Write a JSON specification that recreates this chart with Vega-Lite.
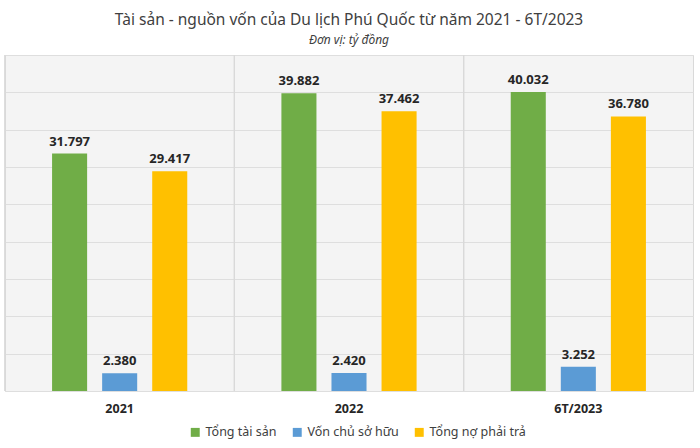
{
  "$schema": "https://vega.github.io/schema/vega-lite/v6.json",
  "autosize": "none",
  "width": 688,
  "height": 336,
  "padding": {"left": 5, "top": 55, "right": 7, "bottom": 57},
  "background": "white",
  "config": {
    "font": "Noto Sans",
    "locale": {"number": {"decimal": ",", "thousands": ".", "grouping": [3], "currency": ["", ""]}},
    "view": {"fill": "#f4f4f4", "stroke": "#d9d9d9"},
    "title": {"font": "Noto Sans", "fontSize": 15.5, "fontWeight": "normal", "color": "#404040", "subtitleFont": "Noto Sans", "subtitleFontSize": 12, "subtitleFontStyle": "italic", "subtitleColor": "#404040", "subtitlePadding": 6, "offset": 9, "anchor": "middle"}
  },
  "title": {"text": "Tài sản - nguồn vốn của Du lịch Phú Quốc từ năm 2021 - 6T/2023", "subtitle": "Đơn vị: tỷ đồng"},
  "data": {
    "values": [
      {"year": "2021", "series": "Tổng tài sản", "value": 31797},
      {"year": "2021", "series": "Vốn chủ sở hữu", "value": 2380},
      {"year": "2021", "series": "Tổng nợ phải trả", "value": 29417},
      {"year": "2022", "series": "Tổng tài sản", "value": 39882},
      {"year": "2022", "series": "Vốn chủ sở hữu", "value": 2420},
      {"year": "2022", "series": "Tổng nợ phải trả", "value": 37462},
      {"year": "6T/2023", "series": "Tổng tài sản", "value": 40032},
      {"year": "6T/2023", "series": "Vốn chủ sở hữu", "value": 3252},
      {"year": "6T/2023", "series": "Tổng nợ phải trả", "value": 36780}
    ]
  },
  "encoding": {
    "x": {
      "field": "year", "type": "nominal", "sort": null, "title": null,
      "scale": {"paddingInner": 0, "paddingOuter": 0},
      "axis": {"domain": false, "ticks": false, "grid": false, "labelAngle": 0, "labelFontWeight": "bold", "labelFontSize": 12.5, "labelColor": "#262626", "labelPadding": 11}
    },
    "y": {
      "field": "value", "type": "quantitative", "title": null,
      "scale": {"domain": [0, 45000], "nice": false},
      "axis": {"labels": false, "ticks": false, "domain": false, "grid": true, "gridColor": "#dedede", "values": [0, 5000, 10000, 15000, 20000, 25000, 30000, 35000, 40000, 45000]}
    }
  },
  "layer": [
    {
      "mark": {"type": "rule", "color": "#d9d9d9", "strokeWidth": 1},
      "encoding": {
        "x": {"field": "year", "type": "nominal", "sort": null, "bandPosition": 0},
        "y": null
      }
    },
    {
      "mark": {"type": "bar"},
      "encoding": {
        "xOffset": {"field": "series", "type": "nominal", "sort": ["Tổng tài sản", "Vốn chủ sở hữu", "Tổng nợ phải trả"], "scale": {"paddingInner": 0.3, "paddingOuter": 0.94}},
        "color": {
          "field": "series", "type": "nominal", "title": null,
          "sort": ["Tổng tài sản", "Vốn chủ sở hữu", "Tổng nợ phải trả"],
          "scale": {"domain": ["Tổng tài sản", "Vốn chủ sở hữu", "Tổng nợ phải trả"], "range": ["#70AD47", "#5B9BD5", "#FFC000"]},
          "legend": {"orient": "none", "legendX": 184, "legendY": 371, "direction": "horizontal", "symbolType": "square", "symbolSize": 80, "symbolStrokeWidth": 0, "labelFontSize": 12.5, "labelColor": "#404040", "columnPadding": 14, "labelOffset": 4}
        }
      }
    },
    {
      "mark": {"type": "text", "baseline": "bottom", "dy": -5, "fontWeight": "bold", "fontSize": 13, "color": "#262626"},
      "encoding": {
        "xOffset": {"field": "series", "type": "nominal", "sort": ["Tổng tài sản", "Vốn chủ sở hữu", "Tổng nợ phải trả"]},
        "text": {"field": "value", "type": "quantitative", "format": ","}
      }
    }
  ]
}
